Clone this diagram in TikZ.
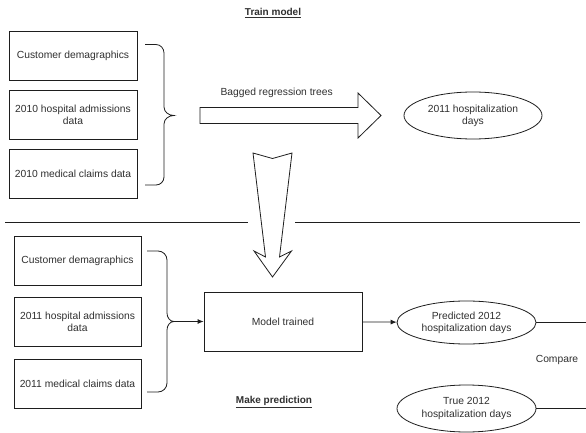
\documentclass[tikz,border=0pt]{standalone}
\usepackage{fontspec}
\setmainfont{Liberation Sans}
\usetikzlibrary{arrows.meta,shapes.geometric}
\definecolor{hpInk}{HTML}{1E1E1E}
\definecolor{hpText}{HTML}{303030}
\tikzset{
  hp canvas/.style={fill=white},
  hp box/.style={
    draw=hpInk, line width=.8pt, rectangle,
    minimum width=128pt, minimum height=49pt,
    align=center, inner sep=2pt,
    font=\fontsize{10.3}{12.2}\selectfont, text=hpText
  },
  hp oval/.style={
    draw=hpInk, line width=.8pt, ellipse, inner sep=0pt,
    minimum width=139pt, minimum height=45pt,
    align=center, font=\fontsize{10.3}{12.2}\selectfont, text=hpText
  },
  hp brace/.style={draw=hpInk, line width=.8pt},
  hp link/.style={
    draw=hpInk, line width=.8pt,
    -{Latex[length=6pt,width=5pt]}
  },
  hp line/.style={draw=hpInk, line width=.8pt},
  hp block/.style={draw=hpInk, line width=.8pt, fill=white, line join=miter},
  hp label/.style={font=\fontsize{10.3}{12.2}\selectfont, text=hpText},
  hp title/.style={font=\fontsize{10}{12}\selectfont\bfseries, text=hpText}
}
\begin{document}
\begin{tikzpicture}[x=1pt,y=-1pt]
  \path[hp canvas] (0,0) rectangle (586,433);
  \useasboundingbox (0,0) rectangle (586,433);

  \node[hp title] (trainTitle) at (273,13) {\underline{Train model}};

  \node[hp box] (demoA) at (73,55.5) {Customer demagraphics};
  \node[hp box] (admA) at (73,114.5) {2010 hospital admissions\\data};
  \node[hp box] (claimA) at (73,174) {2010 medical claims data};

  \coordinate (trainTip) at (174,115.5);
  \draw[hp brace] (145,44.5) -- (156,44.5) to[out=0,in=90] (164,53)
    -- (164,107) to[out=-90,in=180] (trainTip)
    to[out=180,in=90] (164,124) -- (164,177)
    to[out=-90,in=0] (156,185) -- (145,185);

  \node[hp label, anchor=west] (baggedLabel) at (217,93) {Bagged regression trees};
  \draw[hp block] (200,107.5) -- (358,107.5) -- (358,93) -- (381,115.5)
    -- (358,138) -- (358,123.5) -- (200,123.5) -- cycle;

  \node[hp oval, minimum width=138pt, minimum height=47pt] (daysA) at (473,115.5)
    {2011 hospitalization\\days};

  \draw[hp line] (5,222) -- (248,222);
  \draw[hp line] (295,222) -- (580,222);

  \draw[hp block] (253,153) -- (272.5,158.5) -- (292,153) -- (279.5,257)
    -- (291.5,251) -- (272.5,277) -- (254,251) -- (265.5,257) -- cycle;

  \node[hp box, minimum width=127pt] (demoB) at (77.5,260.5) {Customer demagraphics};
  \node[hp box, minimum width=127pt] (admB) at (77.5,321.5) {2011 hospital admissions\\data};
  \node[hp box, minimum width=127pt] (claimB) at (77.5,383.5) {2011 medical claims data};

  \coordinate (predTip) at (174,321.5);
  \draw[hp brace] (147,251) -- (158,251) to[out=0,in=90] (167,260)
    -- (167,313) to[out=-90,in=180] (predTip)
    to[out=180,in=90] (167,330) -- (167,383)
    to[out=-90,in=0] (158,392) -- (147,392);

  \node[hp box, minimum width=158pt, minimum height=59pt] (model) at (283,321.5)
    {Model trained};
  \draw[hp link] (predTip) -- (model.west);

  \node[hp oval, minimum height=43pt] (predDays) at (466.5,322.5)
    {Predicted 2012\\hospitalization days};
  \node[hp oval, minimum height=47pt] (trueDays) at (466.5,408.5)
    {True 2012\\hospitalization days};
  \draw[hp link] (model) -- (predDays);

  \coordinate (predEnd) at (587,322.5);
  \coordinate (trueEnd) at (587,408.5);
  \draw[hp line] (predDays) -- (predEnd);
  \draw[hp line] (trueDays) -- (trueEnd);

  \node[hp label] (compare) at (557,360) {Compare};
  \node[hp title] (predictTitle) at (274,402) {\underline{Make prediction}};
\end{tikzpicture}
\end{document}
